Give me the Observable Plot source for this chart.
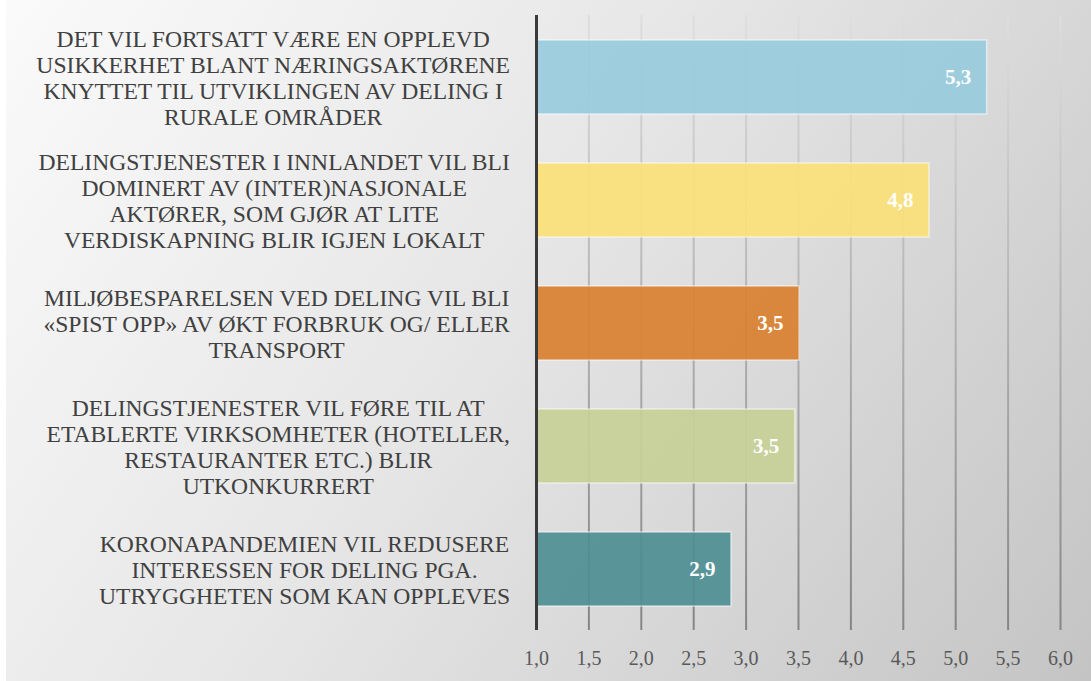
<!DOCTYPE html>
<html>
<head>
<meta charset="utf-8">
<script src="https://cdn.jsdelivr.net/npm/d3@7"></script>
<script src="https://cdn.jsdelivr.net/npm/@observablehq/plot@0.6"></script>
<style>
  html, body { margin: 0; padding: 0; background: #ffffff; }
  #chart { position: absolute; left: 6px; top: 0; }
  #chart svg { display: block; }
  #chart svg text { font-family: "Liberation Serif", "Times New Roman", serif !important; }
</style>
</head>
<body>
<div id="chart"></div>
<script>
const categories = [
  "DET VIL FORTSATT VÆRE EN OPPLEVD\nUSIKKERHET BLANT NÆRINGSAKTØRENE\nKNYTTET TIL UTVIKLINGEN AV DELING I\nRURALE OMRÅDER",
  "DELINGSTJENESTER I INNLANDET VIL BLI\nDOMINERT AV (INTER)NASJONALE\nAKTØRER, SOM GJØR AT LITE\nVERDISKAPNING BLIR IGJEN LOKALT",
  "MILJØBESPARELSEN VED DELING VIL BLI\n«SPIST OPP» AV ØKT FORBRUK OG/ ELLER\nTRANSPORT",
  "DELINGSTJENESTER VIL FØRE TIL AT\nETABLERTE VIRKSOMHETER (HOTELLER,\nRESTAURANTER ETC.) BLIR\nUTKONKURRERT",
  "KORONAPANDEMIEN VIL REDUSERE\nINTERESSEN FOR DELING PGA.\nUTRYGGHETEN SOM KAN OPPLEVES"
];
const values = [5.30, 4.75, 3.51, 3.47, 2.86];
const valueLabels = ["5,3", "4,8", "3,5", "3,5", "2,9"];
const barColors = ["#98cbdd", "#fbdf78", "#d8802f", "#c7cf97", "#4e8e93"];
const xTicks = [1.0, 1.5, 2.0, 2.5, 3.0, 3.5, 4.0, 4.5, 5.0, 5.5, 6.0];
const xTickLabels = ["1,0", "1,5", "2,0", "2,5", "3,0", "3,5", "4,0", "4,5", "5,0", "5,5", "6,0"];

const data = categories.map((c, i) => ({cat: c, value: values[i], label: valueLabels[i], color: barColors[i]}));

const W = 1085, H = 681;
const mTop = 15, mBottom = 51, mLeft = 530, mRight = 31;
const serif = "Liberation Serif";

const svg = Plot.plot({
  width: W,
  height: H,
  marginTop: mTop,
  marginBottom: mBottom,
  marginLeft: mLeft,
  marginRight: mRight,
  style: {
    background: "linear-gradient(125deg, #fafafa 0%, #e6e6e6 45%, #c4c4c4 100%)",
    fontFamily: serif,
    overflow: "visible"
  },
  x: {domain: [1, 6], label: null},
  y: {domain: categories, paddingInner: 0.4, paddingOuter: 0.2, axis: null},
  marks: [
    Plot.gridX(xTicks, {stroke: "#999", strokeOpacity: 1, strokeWidth: 2}),
    Plot.barX(data, {
      y: "cat", x1: 1, x2: "value", fill: "color", fillOpacity: 0.92,
      stroke: "#ffffff", strokeOpacity: 0.55, strokeWidth: 1.5
    }),
    Plot.text(data, {
      y: "cat", x: "value", text: "label", textAnchor: "end", dx: -16,
      fill: "#ffffff", fontWeight: "bold", fontSize: 21, fontFamily: serif
    }),
    Plot.text(data, {
      y: "cat", text: "cat", frameAnchor: "left", textAnchor: "middle",
      lineHeight: 1.1, fontSize: 23.6, fill: "#404040", fontFamily: serif
    }),
    Plot.axisX(xTicks, {
      tickSize: 0, tickPadding: 20, fontSize: 20, fill: "#595959", fontFamily: serif,
      tickFormat: (d, i) => xTickLabels[xTicks.indexOf(d)], label: null
    }),
    Plot.ruleX([1], {stroke: "#3a3a3a", strokeWidth: 3})
  ]
});

document.getElementById("chart").appendChild(svg);

// gradient stroke for gridlines (light at top, darker at bottom)
const ns = "http://www.w3.org/2000/svg";
const defs = document.createElementNS(ns, "defs");
const lg = document.createElementNS(ns, "linearGradient");
lg.setAttribute("id", "gridGrad");
lg.setAttribute("gradientUnits", "userSpaceOnUse");
lg.setAttribute("x1", 0); lg.setAttribute("x2", 0);
lg.setAttribute("y1", mTop); lg.setAttribute("y2", H - mBottom);
[["0%", "#dedede"], ["100%", "#858585"]].forEach(([o, c]) => {
  const s = document.createElementNS(ns, "stop");
  s.setAttribute("offset", o); s.setAttribute("stop-color", c);
  lg.appendChild(s);
});
defs.appendChild(lg);
svg.insertBefore(defs, svg.firstChild);
svg.querySelectorAll('g[aria-label="x-grid"]').forEach(g => {
  g.setAttribute("stroke", "url(#gridGrad)");
  g.querySelectorAll("line").forEach(l => l.setAttribute("stroke", "url(#gridGrad)"));
});

// right-align each (centered) category label block
const labelRight = 504;
const svgRect = svg.getBoundingClientRect();
const textGroups = svg.querySelectorAll('g[aria-label="text"]');
const catGroup = textGroups[textGroups.length - 1];
catGroup.querySelectorAll("text").forEach(t => {
  const r = t.getBoundingClientRect();
  const shift = labelRight - (r.right - svgRect.left);
  const tr = t.getAttribute("transform") || "";
  t.setAttribute("transform", tr + ` translate(${shift},0)`);
});
</script>
</body>
</html>
